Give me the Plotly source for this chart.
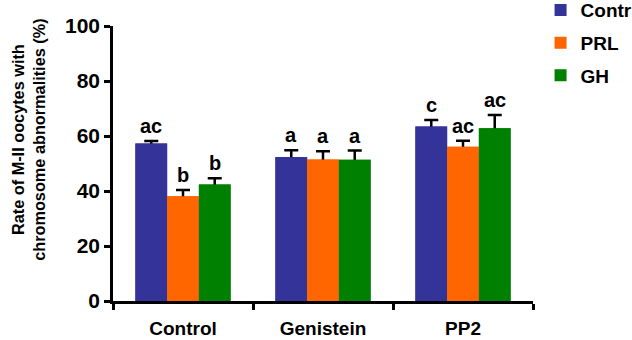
import plotly.graph_objects as go

categories = ["Control", "Genistein", "PP2"]
series_names = ["Contr", "PRL", "GH"]
contr_vals = [57.3, 52.4, 63.5]
prl_vals = [38.1, 51.5, 56.1]
gh_vals = [42.4, 51.4, 62.8]
contr_err = [0.9, 2.4, 2.3]
prl_err = [2.3, 3.0, 2.2]
gh_err = [2.2, 3.3, 4.8]
contr_letters = ["ac", "a", "c"]
prl_letters = ["b", "a", "ac"]
gh_letters = ["b", "a", "ac"]
colors = ["#333399", "#FF6600", "#008000"]
y_ticks = [0, 20, 40, 60, 80, 100]
y_title = "Rate of M-II oocytes with<br>chromosome abnormalities (%)"

values = [contr_vals, prl_vals, gh_vals]
errors = [contr_err, prl_err, gh_err]
letters = [contr_letters, prl_letters, gh_letters]

FONT = "Arial, Liberation Sans, sans-serif"
bargap = 0.32

fig = go.Figure()
# bars with error bars (stem extends a little into the bar)
for k, name in enumerate(series_names):
    fig.add_trace(go.Bar(
        x=categories, y=values[k], name=name,
        marker=dict(color=colors[k], line=dict(width=0)),
        legendgroup=name, offsetgroup=str(k),
        error_y=dict(type="data", symmetric=False, array=errors[k],
                     arrayminus=[1.5] * len(categories),
                     color="black", thickness=2.5, width=7),
    ))
# identical bars on top to hide the lower half of the error bars
for k, name in enumerate(series_names):
    fig.add_trace(go.Bar(
        x=categories, y=values[k], name=name,
        marker=dict(color=colors[k], line=dict(width=0)),
        legendgroup=name, offsetgroup=str(k), showlegend=False,
        hoverinfo="skip",
    ))

nser = len(series_names)
bw = (1 - bargap) / nser
annotations = []
for k in range(nser):
    off = (k - (nser - 1) / 2) * bw
    for i, c in enumerate(categories):
        annotations.append(dict(
            x=i + off, y=values[k][i] + errors[k][i], xref="x", yref="y",
            text=letters[k][i], showarrow=False, yanchor="bottom", yshift=2,
            font=dict(family=FONT, size=20, color="black", weight="bold"),
        ))
# y-axis title
annotations.append(dict(
    x=-0.203, y=0.585, xref="paper", yref="paper", text=y_title,
    textangle=-90, showarrow=False, xanchor="center", yanchor="middle",
    font=dict(family=FONT, size=16.3, color="black", weight="bold"),
))

fig.update_layout(
    width=632, height=340,
    margin=dict(l=113, r=99, t=26, b=39, autoexpand=False),
    paper_bgcolor="white", plot_bgcolor="white",
    barmode="group", bargap=bargap, bargroupgap=0,
    font=dict(family=FONT, color="black"),
    annotations=annotations,
    legend=dict(x=1.018, y=1.127, xanchor="left", yanchor="top",
                font=dict(family=FONT, size=19, color="black", weight="bold"),
                tracegroupgap=5, itemwidth=30, bgcolor="rgba(0,0,0,0)"),
    showlegend=True,
)
fig.update_xaxes(
    showline=True, linecolor="black", linewidth=2.5,
    ticks="outside", tickson="boundaries", ticklen=6, tickwidth=2.5, tickcolor="black",
    tickfont=dict(family=FONT, size=19, color="black", weight="bold"),
    ticklabelstandoff=8,
    showgrid=False, zeroline=False,
)
fig.update_yaxes(
    range=[0, 100], tickvals=y_ticks, ticktext=[str(t) for t in y_ticks],
    showline=True, linecolor="black", linewidth=2.5,
    ticks="outside", ticklen=6, tickwidth=2.5, tickcolor="black",
    tickfont=dict(family=FONT, size=21, color="black", weight="bold"),
    showgrid=False, zeroline=False,
)

fig.write_html("out.html", config={"displayModeBar": False},
               post_script="document.body.style.margin='0';")
